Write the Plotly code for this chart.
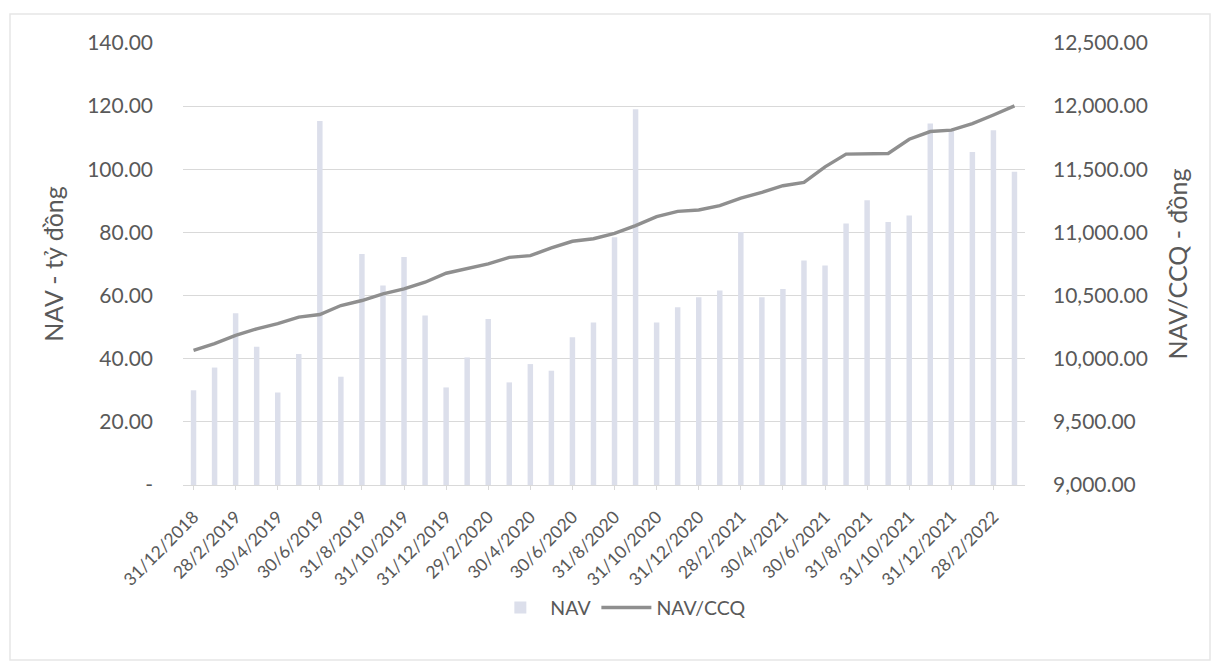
import plotly.graph_objects as go

dates = [
    "31/12/2018", "31/1/2019", "28/2/2019", "31/3/2019", "30/4/2019", "31/5/2019",
    "30/6/2019", "31/7/2019", "31/8/2019", "30/9/2019", "31/10/2019", "30/11/2019",
    "31/12/2019", "31/1/2020", "29/2/2020", "31/3/2020", "30/4/2020", "31/5/2020",
    "30/6/2020", "31/7/2020", "31/8/2020", "30/9/2020", "31/10/2020", "30/11/2020",
    "31/12/2020", "31/1/2021", "28/2/2021", "31/3/2021", "30/4/2021", "31/5/2021",
    "30/6/2021", "31/7/2021", "31/8/2021", "30/9/2021", "31/10/2021", "30/11/2021",
    "31/12/2021", "31/1/2022", "28/2/2022", "31/3/2022",
]

nav = [
    30.0, 37.2, 54.4, 43.8, 29.3, 41.5, 115.3, 34.3, 73.2, 63.2, 72.2, 53.7,
    30.9, 40.4, 52.6, 32.5, 38.3, 36.2, 46.8, 51.5, 78.5, 119.0, 51.5, 56.3,
    59.5, 61.6, 80.1, 59.5, 62.1, 71.1, 69.5, 82.8, 90.2, 83.3, 85.4, 114.5,
    112.4, 105.5, 112.4, 99.2,
]

nav_ccq = [
    10066, 10119, 10185, 10237, 10277, 10329, 10350, 10421, 10461, 10514, 10553, 10606,
    10677, 10711, 10751, 10803, 10816, 10877, 10930, 10950, 10993, 11054, 11125, 11167,
    11178, 11212, 11272, 11317, 11370, 11396, 11519, 11620, 11625, 11625, 11738, 11799,
    11810, 11862, 11930, 12002,
]

left_tickvals = [0, 20, 40, 60, 80, 100, 120, 140]
left_ticktext = ["-", "20.00", "40.00", "60.00", "80.00", "100.00", "120.00", "140.00"]
x_tick_labels = dates[::2]

FONT = "Lato, 'Open Sans', sans-serif"
TXT = "#595959"

# plot area in figure pixels
L, T, R, B = 175, 35, 202, 193
PW, PH = 1219 - L - R, 670 - T - B

fig = go.Figure()
fig.add_trace(go.Bar(
    x=dates, y=nav, name="NAV",
    marker=dict(color="#dcdfeb", line=dict(width=0)),
    width=0.26, yaxis="y",
))
fig.add_trace(go.Scatter(
    x=dates, y=nav_ccq, name="NAV/CCQ", mode="lines",
    line=dict(color="#8f8f8f", width=3.4),
    yaxis="y2",
))

fig.update_layout(
    width=1219, height=670,
    paper_bgcolor="white", plot_bgcolor="white",
    margin=dict(l=L, r=R, t=T, b=B, autoexpand=False),
    font=dict(family=FONT, color=TXT, size=18),
    bargap=0.7,
    showlegend=True,
    legend=dict(
        orientation="h", x=0.52, xanchor="center", y=-0.278, yanchor="middle",
        font=dict(size=19.5, color=TXT), itemwidth=50,
    ),
    xaxis=dict(
        type="category", automargin=False,
        tickmode="array", tickvals=x_tick_labels, ticktext=x_tick_labels,
        tickangle=-45, tickfont=dict(size=17.5, color=TXT), ticklabelstandoff=10,
        showgrid=False, showline=True, linecolor="#d9d9d9", linewidth=1,
        ticks="outside", ticklen=4, tickcolor="#d9d9d9",
    ),
    yaxis=dict(
        range=[0, 140], tickmode="array", tickvals=left_tickvals, ticktext=left_ticktext,
        automargin=False,
        showgrid=True, gridcolor="#d9d9d9", gridwidth=1, zeroline=False,
        tickfont=dict(size=21, color=TXT), ticklabelstandoff=29,
        title=dict(text="NAV - tỷ đồng", font=dict(size=25, color=TXT), standoff=16),
    ),
    yaxis2=dict(
        range=[9000, 12500], dtick=500, tick0=9000, tickformat=",.2f",
        automargin=False,
        overlaying="y", side="right", showgrid=False, zeroline=False,
        tickfont=dict(size=21, color=TXT), ticklabelstandoff=27,
        title=dict(text="NAV/CCQ - đồng", font=dict(size=25, color=TXT), standoff=22),
    ),
    shapes=[dict(
        type="rect", xref="paper", yref="paper",
        x0=(2 - L) / PW, x1=(1202 - L) / PW,
        y0=(T + PH - 652) / PH, y1=(T + PH - 6) / PH,
        line=dict(color="#e6e6e6", width=1.5), layer="below",
    )],
)

fig.write_html("out.html")
